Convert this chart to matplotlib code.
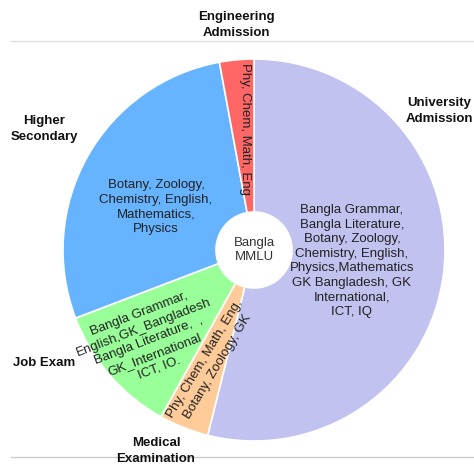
import matplotlib.pyplot as plt
plt.switch_backend('agg')

plt.rcParams['font.family'] = ['Liberation Sans', 'DejaVu Sans']

# slice shares (percent), clockwise from 12 o'clock
categories = ['University\nAdmission', 'Medical\nExamination', 'Job Exam',
              'Higher\nSecondary', 'Engineering\nAdmission']
shares = [53.9, 4.2, 11.1, 27.9, 2.9]
colors = ['#c2c2f0', '#ffcc99', '#99ff99', '#66b3ff', '#ff6666']
subjects = [
    'Bangla Grammar,\nBangla Literature,\nBotany, Zoology,\nChemistry, English,\n'
    'Physics,Mathematics\nGK Bangladesh, GK\nInternational,\nICT, IQ',
    'Phy, Chem, Math, Eng,\nBotany, Zoology, GK',
    'Bangla Grammar,\nEnglish,GK_Bangladesh\nBangla Literature,  ,\nGK_International\nICT, IO.',
    'Botany, Zoology,\nChemistry, English,\nMathematics,\nPhysics',
    'Phy, Chem, Math, Eng',
]

W, H = 474, 466
fig = plt.figure(figsize=(W / 100, H / 100), dpi=100)
ax = fig.add_axes([0, 0, 1, 1])

cx, cy, R, r_hole = 254, H - 250, 191, 38
ax.pie(shares, colors=colors, startangle=90, counterclock=False,
       center=(cx, cy), radius=R, frame=True,
       wedgeprops=dict(width=R - r_hole, edgecolor='white', linewidth=1.2))
ax.set_xlim(0, W)
ax.set_ylim(0, H)
ax.axis('off')

# text inside slices (pixel positions from the top-left)
inner_pos = [(352, 261), (211, 363), (149, 341), (156, 207), (245, 129)]
inner_rot = [0, 59, 21, 0, -90]
for txt, (x, y), rot in zip(subjects, inner_pos, inner_rot):
    ax.text(x, H - y, txt, ha='center', va='center', rotation=rot,
            rotation_mode='anchor', fontsize=9.5, color='#222222',
            multialignment='center', linespacing=1.28)

ax.text(cx, cy, 'Bangla\nMMLU', ha='center', va='center', fontsize=9.5,
        color='#333333', linespacing=1.28)

# outer category labels
outer_pos = [(439, 111), (156, 451), (44, 363), (44, 129), (236, 25)]
for lab, (x, y) in zip(categories, outer_pos):
    ax.text(x, H - y, lab, ha='center', va='center', fontsize=9.5,
            fontweight='bold', color='#111111', linespacing=1.35)

# thin rules above and below
ax.plot([11, W], [H - 41, H - 41], color='#e0e0e0', lw=1)
ax.plot([11, W], [H - 457, H - 457], color='#cccccc', lw=1)

plt.savefig('out.png', dpi=100)
